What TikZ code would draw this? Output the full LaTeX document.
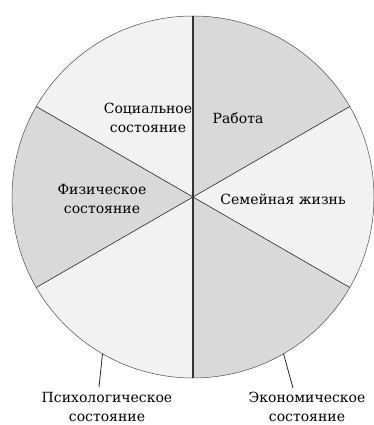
\documentclass[tikz,border=0pt]{standalone}
\usepackage{fontspec}
\setmainfont{DejaVu Serif}
\newfontfamily\lblfont{DejaVu Serif}
\usetikzlibrary{positioning}

\definecolor{sectordark}{HTML}{D9D9D9}
\definecolor{sectorlight}{HTML}{F2F2F2}

\begin{document}
\begin{tikzpicture}[x=1pt,y=1pt,
    lbl/.style={align=center,font=\lblfont\fontsize{14}{19}\selectfont,inner sep=1pt},
    spoke/.style={draw=black!85,line width=0.6pt},
    leader/.style={draw=black!85,line width=0.8pt}]
    \useasboundingbox (-193,-228) rectangle (181,197);
    \def\rad{181}
    % sectors
    \foreach \a/\c in {30/sectordark,90/sectorlight,150/sectordark,210/sectorlight,270/sectordark,330/sectorlight}
      \fill[\c] (0,0) -- (\a:\rad) arc[start angle=\a,delta angle=60,radius=\rad] -- cycle;
    \draw[black!70,line width=0.5pt] (0,0) circle[radius=\rad];
    \draw[spoke] (150:\rad) -- (330:\rad);
    \draw[spoke] (210:\rad) -- (30:\rad);
    \draw[black!80,line width=1.2pt] (90:\rad) -- (270:\rad);
    % labels
    \node[lbl] (social) at (-45,79) {Социальное\\состояние};
    \node[lbl] (work) at (45,79) {Работа};
    \node[lbl] (phys) at (-91,-2) {Физическое\\состояние};
    \node[lbl] (family) at (90,-2) {Семейная жизнь};
    \node[lbl] (psy) at (-86,-210) {Психологическое\\состояние};
    \node[lbl] (econ) at (114,-210) {Экономическое\\состояние};
    % leaders
    \coordinate (psyc) at (240:\rad);
    \coordinate (econc) at (300:\rad);
    \coordinate (psyend) at (-94,-190);
    \coordinate (econend) at (100,-191);
    \draw[leader] (psyc) -- (psyend);
    \draw[leader] (econc) -- (econend);
\end{tikzpicture}
\end{document}
